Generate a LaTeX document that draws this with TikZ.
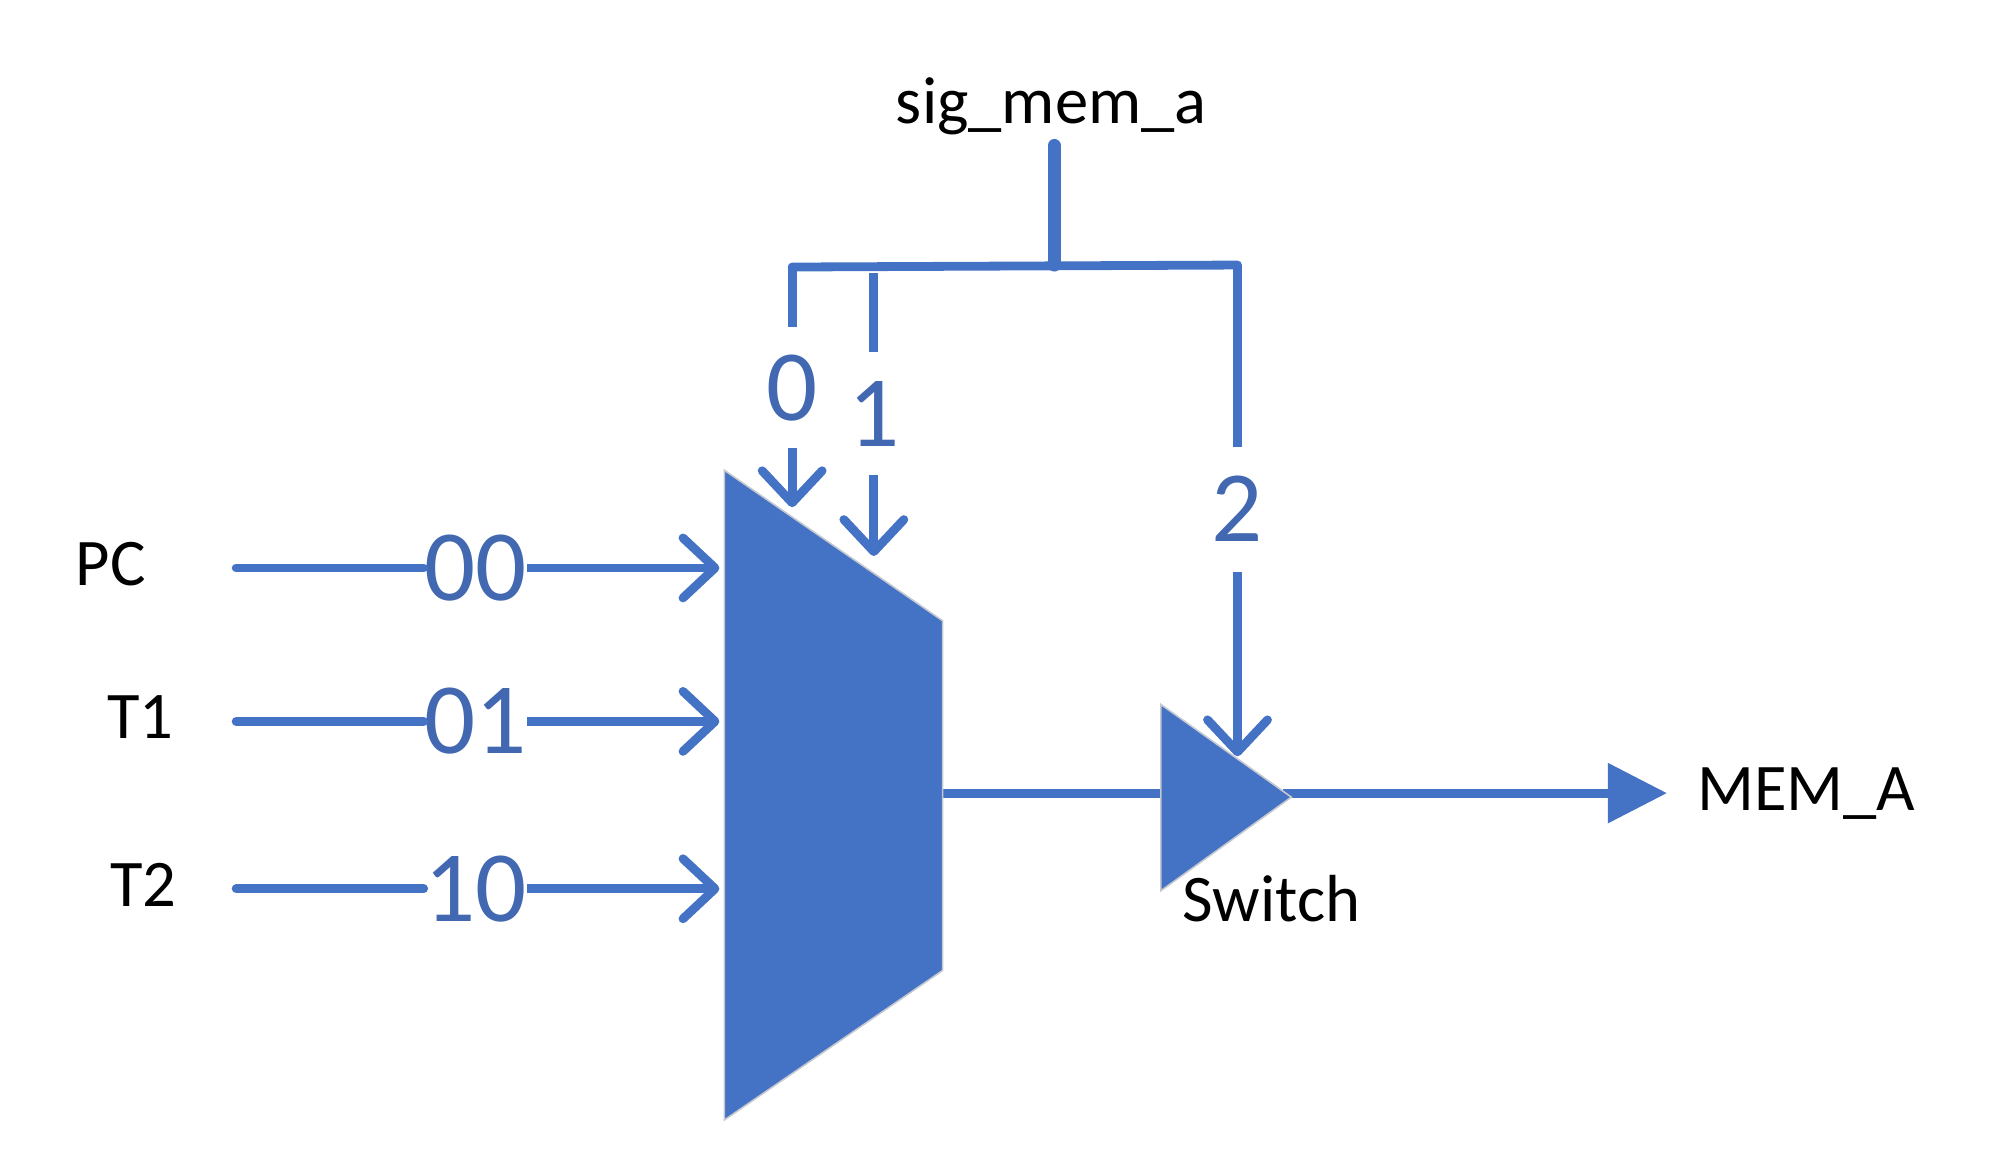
\documentclass[tikz,border=0pt]{standalone}
\usepackage{fontspec}
\setmainfont{Carlito}
\usetikzlibrary{arrows.meta}
\definecolor{wire}{HTML}{4472C4}
\definecolor{digit}{HTML}{4168B0}
\definecolor{edge}{HTML}{C4C8D0}
\tikzset{
  wireline/.style={draw=wire,line width=4.4pt},
  barb/.style={wireline,-{Straight Barb[length=16pt,width=30pt,round]}},
  block/.style={fill=wire,draw=edge,line width=0.8pt,line join=miter},
  name label/.style={text=black,font=\fontsize{33.3pt}{36pt}\selectfont,inner sep=0pt},
  hgap/.style={text=digit,font=\fontsize{50.5pt}{56pt}\selectfont,inner sep=0pt,minimum width=50pt,minimum height=40pt},
  vgap/.style={text=digit,font=\fontsize{50.5pt}{56pt}\selectfont,inner sep=0pt,minimum width=30pt}
}
\begin{document}
\begin{tikzpicture}[x=0.49819pt,y=-0.49819pt]
\useasboundingbox (0,0) rectangle (1997.2,1171.2);
% blocks
\coordinate (mTL) at (727,472);
\coordinate (mTR) at (946,623);
\coordinate (mBR) at (946,974);
\coordinate (mBL) at (727,1124);
\coordinate (sT) at (1165,707);
\coordinate (sTip) at (1296,800);
\coordinate (sB) at (1165,894);
% wires under blocks
\coordinate (mOut) at (946,796);
\coordinate (sIn) at (1165,796);
\coordinate (sOut) at (1288,796);
\coordinate (memTip) at (1673,796);
\draw[wireline] (mOut) -- (sIn);
\draw[wireline,-{Triangle[length=29.5pt,width=29pt]}] (sOut) -- (memTip);
\path[block] (mTL) -- (mTR) -- (mBR) -- (mBL) -- cycle;
\path[block] (sT) -- (sTip) -- (sB) -- cycle;
% labels
\node[name label] (sig) at (1055,107) {sig\_mem\_a};
\node[name label] (pc) at (111,566) {PC};
\node[name label] (t1) at (141,720) {T1};
\node[name label] (t2) at (144,888) {T2};
\node[name label] (switch) at (1276,902) {Switch};
\node[name label] (mem) at (1813,796) {MEM\_A};
% input selects
\node[hgap] (d00) at (477,570) {00};
\node[hgap] (d01) at (477,724) {01};
\node[hgap] (d10) at (477,892) {10};
\coordinate (s00) at (237,570);
\coordinate (s01) at (237,724);
\coordinate (s10) at (237,892);
\coordinate (i00) at (722,570);
\coordinate (i01) at (722,724);
\coordinate (i10) at (722,892);
\foreach \n in {00,01,10}{
  \draw[wireline,line cap=round] (s\n) -- (d\n.west);
  \draw[barb] (d\n.east) -- (i\n);
}
% control tree
\coordinate (stemTop) at (1058,146);
\coordinate (stemBot) at (1058,266);
\coordinate (barL) at (795,268);
\coordinate (barR) at (1242,266);
\coordinate (b1) at (877,274);
\draw[draw=wire,line width=6.5pt,line cap=round] (stemTop) -- (stemBot);
\draw[wireline,line cap=round] (barL) -- (barR);
\node[vgap,minimum height=60pt] (c0) at (795,389) {0};
\node[vgap,minimum height=61pt] (c1) at (877,415) {1};
\node[vgap,minimum height=62pt] (c2) at (1242,511) {2};
\coordinate (e0) at (795,509);
\coordinate (e1) at (877,558);
\coordinate (e2) at (1242,759);
\draw[wireline] (barL) -- (c0.north);
\draw[wireline] (b1) -- (c1.north);
\draw[wireline] (barR) -- (c2.north);
\draw[barb] (c0.south) -- (e0);
\draw[barb] (c1.south) -- (e1);
\draw[barb] (c2.south) -- (e2);
\end{tikzpicture}
\end{document}
